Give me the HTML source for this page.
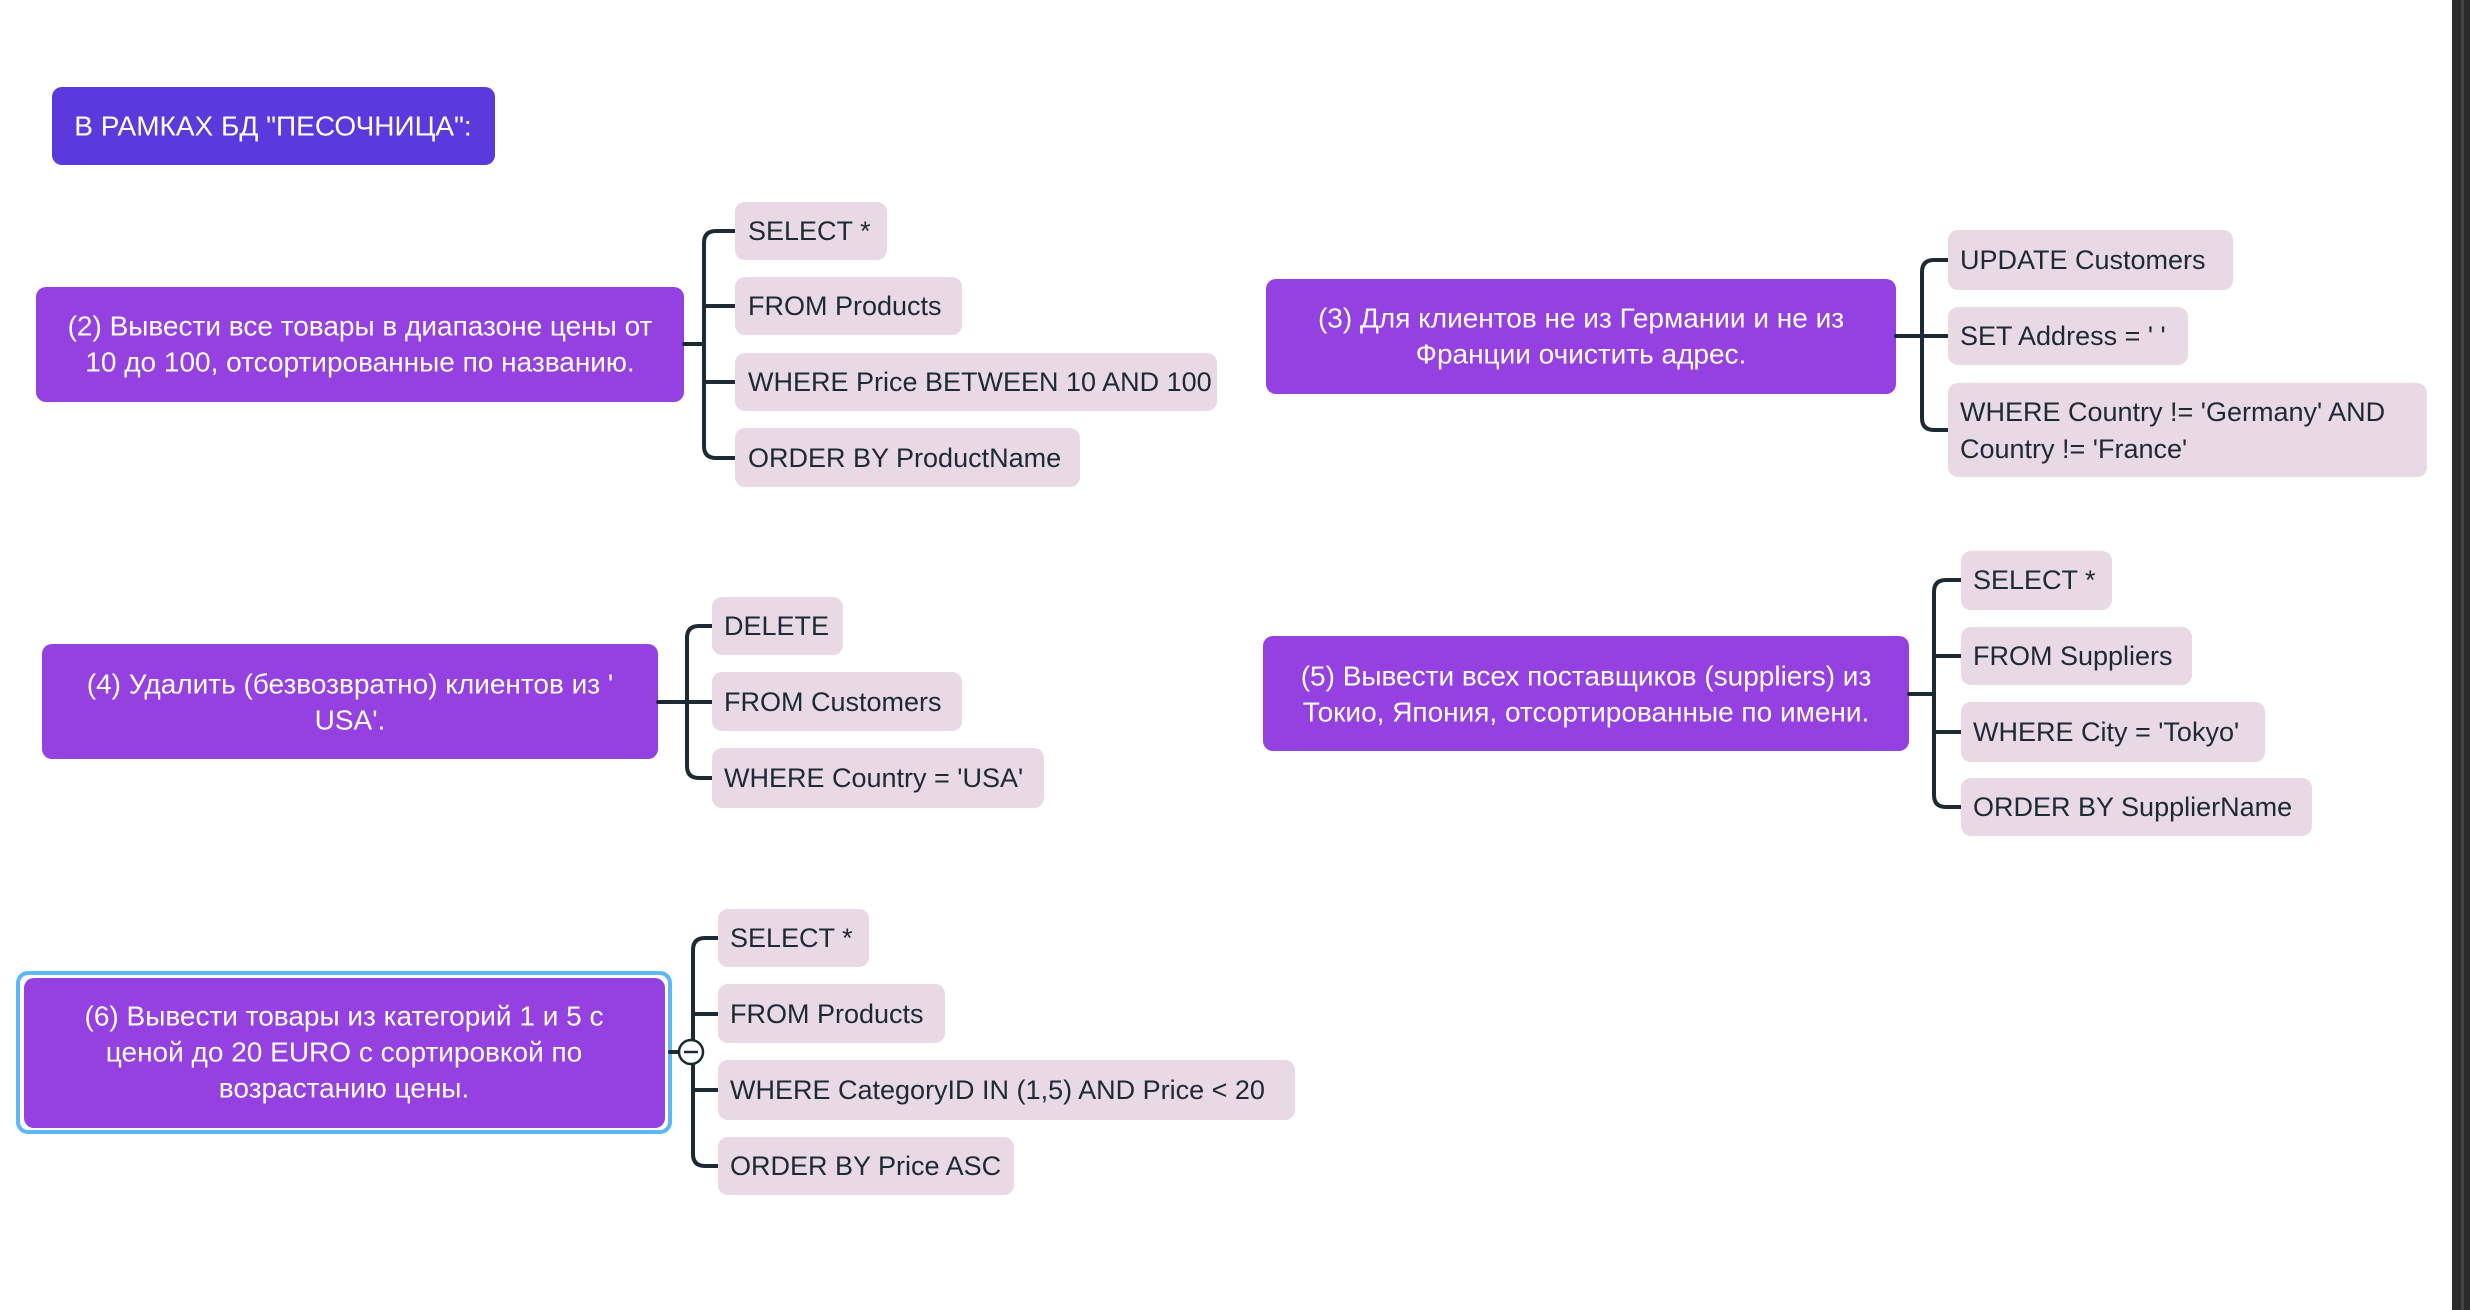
<!DOCTYPE html>
<html><head><meta charset="utf-8"><style>
html,body{margin:0;padding:0;background:#fff;}
svg{display:block;}
text{font-family:"Liberation Sans","Noto Sans CJK SC",sans-serif;}
.p{fill:#fff;font-size:28px;text-anchor:middle;dominant-baseline:central;}
.c{fill:#1b2a33;font-size:27px;dominant-baseline:central;}
.b{fill:#e9d9e4;}
.l{fill:none;stroke:#1b2a33;stroke-width:4;stroke-linecap:round;}
</style></head><body>
<svg width="2470" height="1310" viewBox="0 0 2470 1310" xmlns="http://www.w3.org/2000/svg">
<rect x="2452" y="0" width="18" height="1310" fill="#2b2b2b"/>
<rect x="2461" y="0" width="3" height="1310" fill="#444"/>

<rect x="52" y="87" width="443" height="78" rx="10" fill="#5a3adc"/>
<text class="p" x="273" y="126" style="font-size:28px">В РАМКАХ БД "ПЕСОЧНИЦА":</text>

<rect x="36" y="287" width="648" height="115" rx="10" fill="#9540e0"/>
<text class="p" x="360" y="326">(2) Вывести все товары в диапазоне цены от</text>
<text class="p" x="360" y="362">10 до 100, отсортированные по названию.</text>
<path class="l" d="M684 344 H704 M735 231 H716 Q704 231 704 243 V446 Q704 458 716 458 H735 M704 306 H735 M704 382 H735"/>
<rect class="b" x="735" y="202" width="152" height="58" rx="10"/><text class="c" x="748" y="231">SELECT *</text>
<rect class="b" x="735" y="277" width="227" height="58" rx="10"/><text class="c" x="748" y="306">FROM Products</text>
<rect class="b" x="735" y="353" width="482" height="58" rx="10"/><text class="c" x="748" y="382">WHERE Price BETWEEN 10 AND 100</text>
<rect class="b" x="735" y="428" width="345" height="59" rx="10"/><text class="c" x="748" y="458">ORDER BY ProductName</text>

<rect x="1266" y="279" width="630" height="115" rx="10" fill="#9540e0"/>
<text class="p" x="1581" y="318">(3) Для клиентов не из Германии и не из</text>
<text class="p" x="1581" y="354">Франции очистить адрес.</text>
<path class="l" d="M1896 336 H1948 M1948 260 H1934 Q1922 260 1922 272 V418 Q1922 430 1934 430 H1948"/>
<rect class="b" x="1948" y="230" width="285" height="60" rx="10"/><text class="c" x="1960" y="260">UPDATE Customers</text>
<rect class="b" x="1948" y="307" width="240" height="58" rx="10"/><text class="c" x="1960" y="336">SET Address = ' '</text>
<rect class="b" x="1948" y="383" width="479" height="94" rx="10"/>
<text class="c" x="1960" y="412">WHERE Country != 'Germany' AND</text>
<text class="c" x="1960" y="449">Country != 'France'</text>

<rect x="42" y="644" width="616" height="115" rx="10" fill="#9540e0"/>
<text class="p" x="350" y="684">(4) Удалить (безвозвратно) клиентов из '</text>
<text class="p" x="350" y="720">USA'.</text>
<path class="l" d="M658 702 H712 M712 626 H699 Q687 626 687 638 V766 Q687 778 699 778 H712"/>
<rect class="b" x="712" y="597" width="131" height="58" rx="10"/><text class="c" x="724" y="626">DELETE</text>
<rect class="b" x="712" y="672" width="250" height="59" rx="10"/><text class="c" x="724" y="702">FROM Customers</text>
<rect class="b" x="712" y="748" width="332" height="60" rx="10"/><text class="c" x="724" y="778">WHERE Country = 'USA'</text>

<rect x="1263" y="636" width="646" height="115" rx="10" fill="#9540e0"/>
<text class="p" x="1586" y="676">(5) Вывести всех поставщиков (suppliers) из</text>
<text class="p" x="1586" y="712">Токио, Япония, отсортированные по имени.</text>
<path class="l" d="M1909 694 H1934 M1961 580 H1946 Q1934 580 1934 592 V795 Q1934 807 1946 807 H1961 M1934 656 H1961 M1934 732 H1961"/>
<rect class="b" x="1961" y="551" width="151" height="59" rx="10"/><text class="c" x="1973" y="580">SELECT *</text>
<rect class="b" x="1961" y="627" width="231" height="58" rx="10"/><text class="c" x="1973" y="656">FROM Suppliers</text>
<rect class="b" x="1961" y="702" width="304" height="60" rx="10"/><text class="c" x="1973" y="732">WHERE City = 'Tokyo'</text>
<rect class="b" x="1961" y="778" width="351" height="58" rx="10"/><text class="c" x="1973" y="807">ORDER BY SupplierName</text>

<rect x="18" y="973" width="652" height="159" rx="10" fill="none" stroke="#5cb8f5" stroke-width="4"/>
<rect x="24" y="978" width="641" height="150" rx="10" fill="#9540e0"/>
<text class="p" x="344" y="1016">(6) Вывести товары из категорий 1 и 5 с</text>
<text class="p" x="344" y="1052">ценой до 20 EURO с сортировкой по</text>
<text class="p" x="344" y="1088">возрастанию цены.</text>
<path class="l" d="M670 1052 H693 M718 938 H705 Q693 938 693 950 V1154 Q693 1166 705 1166 H718 M693 1014 H718 M693 1090 H718"/>
<rect class="b" x="718" y="909" width="151" height="58" rx="10"/><text class="c" x="730" y="938">SELECT *</text>
<rect class="b" x="718" y="984" width="227" height="59" rx="10"/><text class="c" x="730" y="1014">FROM Products</text>
<rect class="b" x="718" y="1060" width="577" height="60" rx="10"/><text class="c" x="730" y="1090">WHERE CategoryID IN (1,5) AND Price &lt; 20</text>
<rect class="b" x="718" y="1137" width="296" height="58" rx="10"/><text class="c" x="730" y="1166">ORDER BY Price ASC</text>
<circle cx="691" cy="1052" r="12" fill="#fff" stroke="#1b2a33" stroke-width="2.5"/>
<line x1="684" y1="1052" x2="698" y2="1052" stroke="#1b2a33" stroke-width="2.5"/>
</svg>
</body></html>
